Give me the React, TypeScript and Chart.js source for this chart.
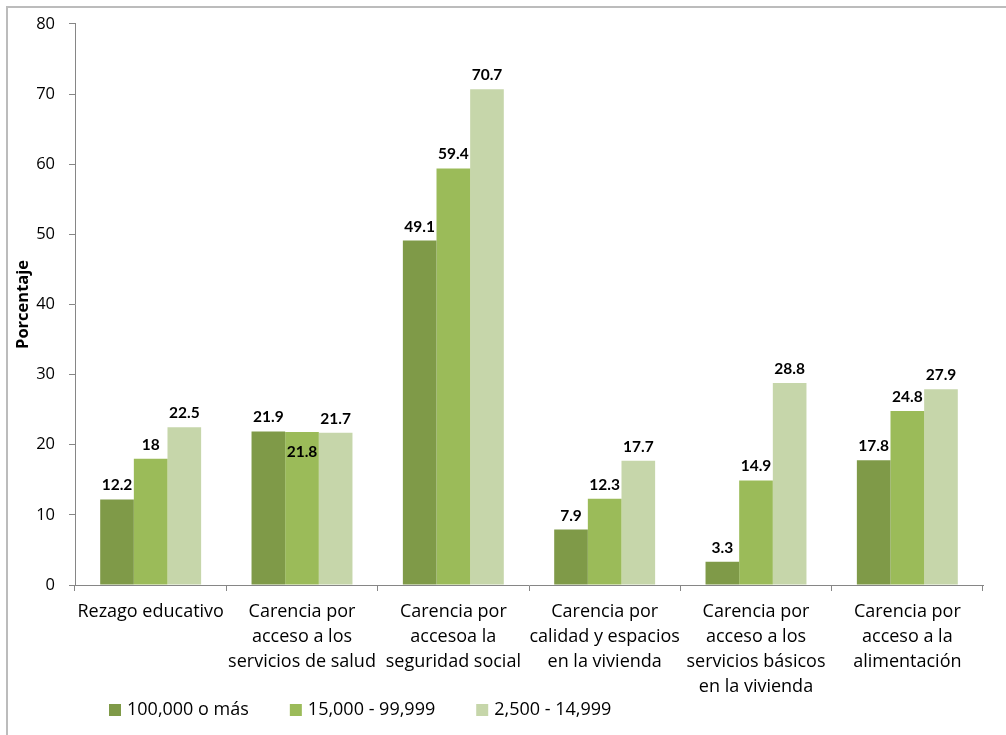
import React, { useEffect, useRef } from 'react';
import { Chart, registerables } from 'chart.js';

Chart.register(...registerables);

const categories: (string | string[])[] = [
  'Rezago educativo',
  ['Carencia por', 'acceso a los', 'servicios de salud'],
  ['Carencia por', 'accesoa la', 'seguridad social'],
  ['Carencia por', 'calidad y espacios', 'en la vivienda'],
  ['Carencia por', 'acceso a los', 'servicios básicos', 'en la vivienda'],
  ['Carencia por', 'acceso a la', 'alimentación'],
];

const seriesNames = ['100,000 o más', '15,000 - 99,999', '2,500 - 14,999'];
const series100k = [12.2, 21.9, 49.1, 7.9, 3.3, 17.8];
const series15k = [18, 21.8, 59.4, 12.3, 14.9, 24.8];
const series2500 = [22.5, 21.7, 70.7, 17.7, 28.8, 27.9];
const seriesColors = ['#7f9a48', '#9bbb59', '#c6d6aa'];

const yMin = 0;
const yMax = 80;
const yStep = 10;
const yTitle = 'Porcentaje';

const FONT = '"Open Sans", "Noto Sans", sans-serif';
const LABEL_FONT = 'Lato, "Liberation Sans", sans-serif';

const borderPlugin = {
  id: 'outerBorder',
  beforeDraw(chart: any) {
    const ctx = chart.ctx;
    ctx.save();
    ctx.fillStyle = '#ffffff';
    ctx.fillRect(0, 0, chart.width, chart.height);
    ctx.strokeStyle = '#bcbcbc';
    ctx.lineWidth = 2;
    ctx.strokeRect(7, 7, chart.width + 20, chart.height + 20);
    ctx.restore();
  },
};

const dataLabelPlugin = {
  id: 'dataLabels',
  afterDatasetsDraw(chart: any) {
    const ctx = chart.ctx;
    ctx.save();
    ctx.font = `bold 15.5px ${LABEL_FONT}`;
    ctx.fillStyle = '#000';
    ctx.textAlign = 'center';
    ctx.textBaseline = 'alphabetic';
    const all = chart.data.datasets.map((d: any) => d.data as number[]);
    chart.data.datasets.forEach((ds: any, di: number) => {
      const meta = chart.getDatasetMeta(di);
      meta.data.forEach((el: any, i: number) => {
        const v = ds.data[i];
        let y = el.y - 9;
        // middle bar crowded by near-equal neighbours: label goes inside the bar
        if (di > 0 && di < all.length - 1) {
          const l = all[di - 1][i];
          const r = all[di + 1][i];
          if (Math.abs(v - l) < 1 && Math.abs(v - r) < 1) y = el.y + 25;
        }
        ctx.fillText(String(v), el.x, y);
      });
    });
    ctx.restore();
  },
};

const legendPlugin = {
  id: 'customLegend',
  afterDraw(chart: any) {
    const ctx = chart.ctx;
    ctx.save();
    ctx.font = `18px ${FONT}`;
    ctx.textBaseline = 'middle';
    ctx.textAlign = 'left';
    let x = 109;
    const yc = 710;
    chart.data.datasets.forEach((ds: any) => {
      ctx.fillStyle = ds.backgroundColor;
      ctx.fillRect(x, yc - 6, 12, 12);
      ctx.fillStyle = '#000';
      ctx.fillText(ds.label, x + 18, yc);
      x += 18 + ctx.measureText(ds.label).width + 41;
    });
    ctx.restore();
  },
};

export default function App() {
  const ref = useRef<HTMLCanvasElement | null>(null);
  useEffect(() => {
    if (!ref.current) return;
    const allSeries = [series100k, series15k, series2500];
    const chart = new Chart(ref.current, {
      type: 'bar',
      data: {
        labels: categories,
        datasets: allSeries.map((d, i) => ({
          label: seriesNames[i],
          data: d,
          backgroundColor: seriesColors[i],
          borderWidth: 0,
          categoryPercentage: 0.667,
          barPercentage: 1,
        })),
      },
      options: {
        animation: false,
        responsive: false,
        devicePixelRatio: 1,
        layout: { padding: { top: 22, right: 23, bottom: 0, left: 0 } },
        plugins: {
          legend: { display: false },
          tooltip: { enabled: false },
        },
        scales: {
          x: {
            offset: true,
            grid: {
              offset: true,
              drawOnChartArea: false,
              drawTicks: true,
              tickLength: 6,
              color: '#868686',
            },
            border: { display: true, color: '#868686', width: 1 },
            ticks: {
              autoSkip: false,
              maxRotation: 0,
              minRotation: 0,
              padding: 8,
              color: '#000',
              font: { family: FONT, size: 18, lineHeight: '25px' as any },
            },
            afterFit(scale: any) {
              scale.height = 150;
            },
          },
          y: {
            min: yMin,
            max: yMax,
            ticks: {
              stepSize: yStep,
              padding: 14,
              color: '#000',
              font: { family: FONT, size: 16.5 },
            },
            grid: {
              drawOnChartArea: false,
              drawTicks: true,
              tickLength: 6,
              color: '#868686',
            },
            border: { display: true, color: '#868686', width: 1 },
            title: {
              display: true,
              text: yTitle,
              color: '#000',
              font: { family: FONT, size: 16.5, weight: 'bold' },
              padding: { top: 13, bottom: 0 },
            },
            afterFit(scale: any) {
              scale.width = 75;
            },
          },
        },
      },
      plugins: [borderPlugin, dataLabelPlugin, legendPlugin],
    });
    return () => chart.destroy();
  }, []);
  return (
    <div style={{ position: 'absolute', left: 0, top: 0, width: 1006, height: 735, overflow: 'hidden' }}>
      <canvas ref={ref} width={1006} height={735} style={{ display: 'block' }} />
    </div>
  );
}
